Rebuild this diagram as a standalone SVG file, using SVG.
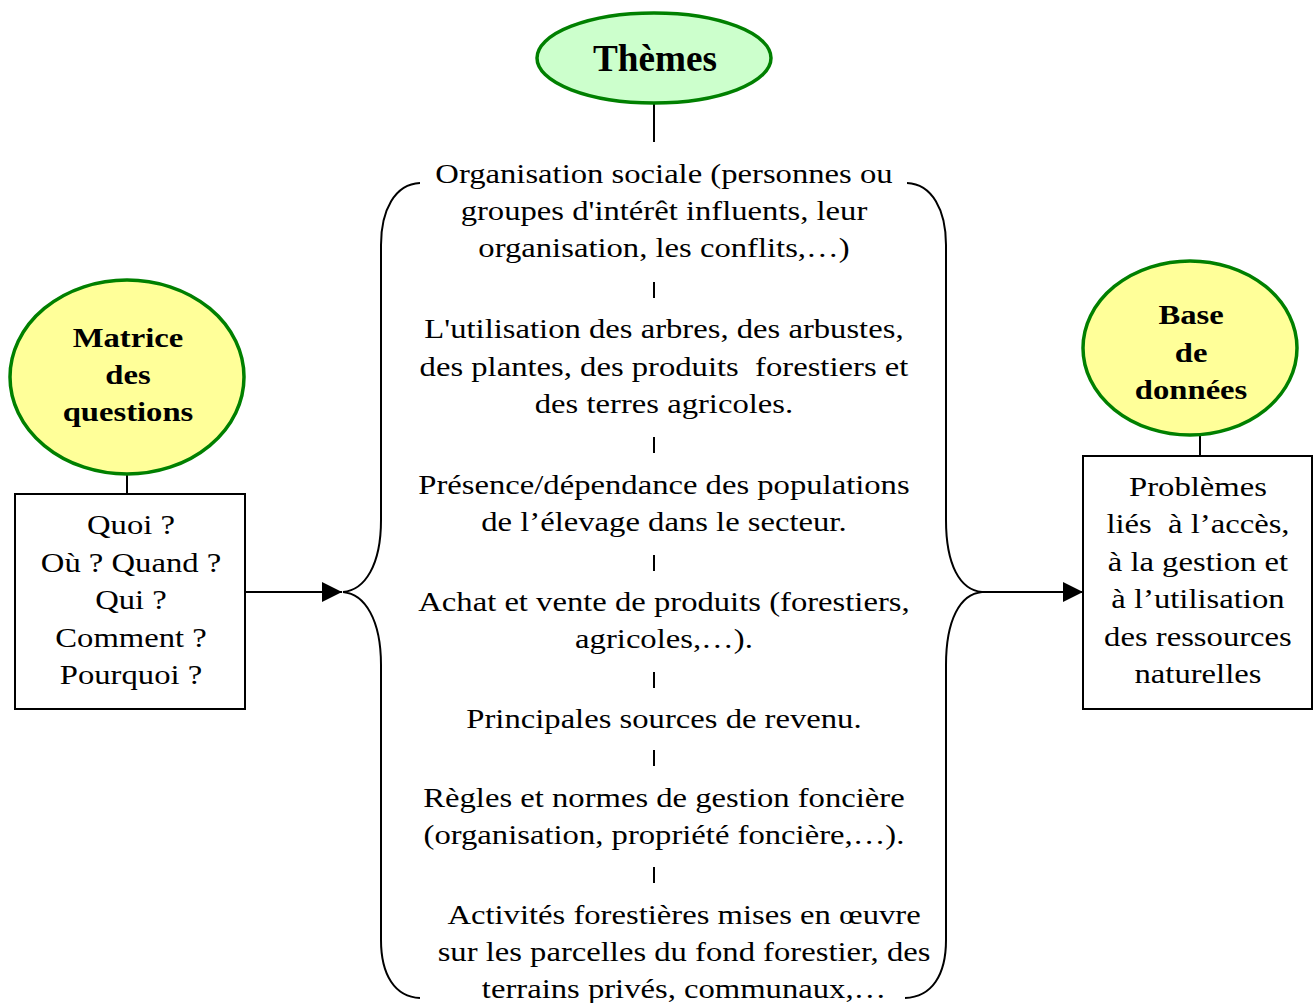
<svg xmlns="http://www.w3.org/2000/svg" width="1313" height="1003" viewBox="0 0 1313 1003">
<style>
text{font-family:"Liberation Serif","Times New Roman",serif;font-size:28px;fill:#000;text-anchor:middle}
.b{font-weight:bold}
.ln{stroke:#000;stroke-width:2;fill:none}
.ell{stroke:#008000;stroke-width:3.5}
</style>
<defs>
<marker id="ah" viewBox="0 0 10 10" refX="10" refY="5" markerWidth="20" markerHeight="20" markerUnits="userSpaceOnUse" orient="auto">
<path d="M0,0 L10,5 L0,10 z" fill="#000"/>
</marker>
</defs>
<rect width="1313" height="1003" fill="#fff"/>
<g id="connectors">
<line class="ln" x1="654" y1="104" x2="654" y2="142"/>
<line class="ln" x1="127" y1="474" x2="127" y2="494"/>
<line class="ln" x1="1200" y1="435" x2="1200" y2="456"/>
<line class="ln" x1="245" y1="592" x2="342" y2="592" marker-end="url(#ah)"/>
<line class="ln" x1="982" y1="592" x2="1083" y2="592" marker-end="url(#ah)"/>
<line class="ln" x1="654" y1="282" x2="654" y2="298"/>
<line class="ln" x1="654" y1="437" x2="654" y2="453"/>
<line class="ln" x1="654" y1="555" x2="654" y2="571"/>
<line class="ln" x1="654" y1="672" x2="654" y2="688"/>
<line class="ln" x1="654" y1="750" x2="654" y2="766"/>
<line class="ln" x1="654" y1="867" x2="654" y2="883"/>
</g>
<g id="themes">
<ellipse class="ell" cx="654" cy="58" rx="117" ry="45" fill="#ccffcc"/>
<text class="b" x="655" y="71" style="font-size:38px" textLength="124" lengthAdjust="spacingAndGlyphs">Thèmes</text>
</g>
<g id="brace">
<path class="ln" d="M420,183 C395,184 381,210 381,245 L381,520 C381,565 365,590 343,592 C365,594 381,620 381,665 L381,940 C381,975 395,997 420,998"/>
<path class="ln" d="M907,183 C932,184 946,210 946,245 L946,520 C946,565 960,590 982,592 C960,594 946,620 946,665 L946,940 C946,975 932,997 905,998"/>
</g>
<g id="theme-list" transform="scale(1.1667,1)">
<text x="569.1" y="183">Organisation sociale (personnes ou</text>
<text x="569.1" y="220">groupes d'intérêt influents, leur</text>
<text x="569.1" y="257">organisation, les conflits,…)</text>
<text x="569.1" y="338">L'utilisation des arbres, des arbustes,</text>
<text x="569.1" y="376">des plantes, des produits&#160; forestiers et</text>
<text x="569.1" y="413">des terres agricoles.</text>
<text x="569.1" y="494">Présence/dépendance des populations</text>
<text x="569.1" y="531">de l’élevage dans le secteur.</text>
<text x="569.1" y="611">Achat et vente de produits (forestiers,</text>
<text x="569.1" y="648">agricoles,…).</text>
<text x="569.1" y="728">Principales sources de revenu.</text>
<text x="569.1" y="807">Règles et normes de gestion foncière</text>
<text x="569.1" y="844">(organisation, propriété foncière,…).</text>
<text x="586.3" y="924">Activités forestières mises en œuvre</text>
<text x="586.3" y="961">sur les parcelles du fond forestier, des</text>
<text x="586.3" y="998">terrains privés, communaux,…</text>
</g>
<g id="matrice">
<ellipse class="ell" cx="127" cy="377" rx="117" ry="97" fill="#ffff99"/>
<g transform="scale(1.1667,1)">
<text class="b" x="109.7" y="347">Matrice</text>
<text class="b" x="109.7" y="384">des</text>
<text class="b" x="109.7" y="421">questions</text>
</g>
</g>
<g id="questions">
<rect class="ln" x="15" y="494" width="230" height="215" fill="#fff"/>
<g transform="scale(1.1667,1)">
<text x="112.3" y="534">Quoi ?</text>
<text x="112.3" y="572">Où ? Quand ?</text>
<text x="112.3" y="609">Qui ?</text>
<text x="112.3" y="647">Comment ?</text>
<text x="112.3" y="684">Pourquoi ?</text>
</g>
</g>
<g id="base">
<ellipse class="ell" cx="1190" cy="348" rx="107" ry="87" fill="#ffff99"/>
<g transform="scale(1.1667,1)">
<text class="b" x="1020.9" y="324">Base</text>
<text class="b" x="1020.9" y="362">de</text>
<text class="b" x="1020.9" y="399">données</text>
</g>
</g>
<g id="problemes">
<rect class="ln" x="1083" y="456" width="229" height="253" fill="#fff"/>
<g transform="scale(1.1667,1)">
<text x="1026.8" y="496">Problèmes</text>
<text x="1026.8" y="533">liés&#160; à l’accès,</text>
<text x="1026.8" y="571">à la gestion et</text>
<text x="1026.8" y="608">à l’utilisation</text>
<text x="1026.8" y="646">des ressources</text>
<text x="1026.8" y="683">naturelles</text>
</g>
</g>
</svg>
